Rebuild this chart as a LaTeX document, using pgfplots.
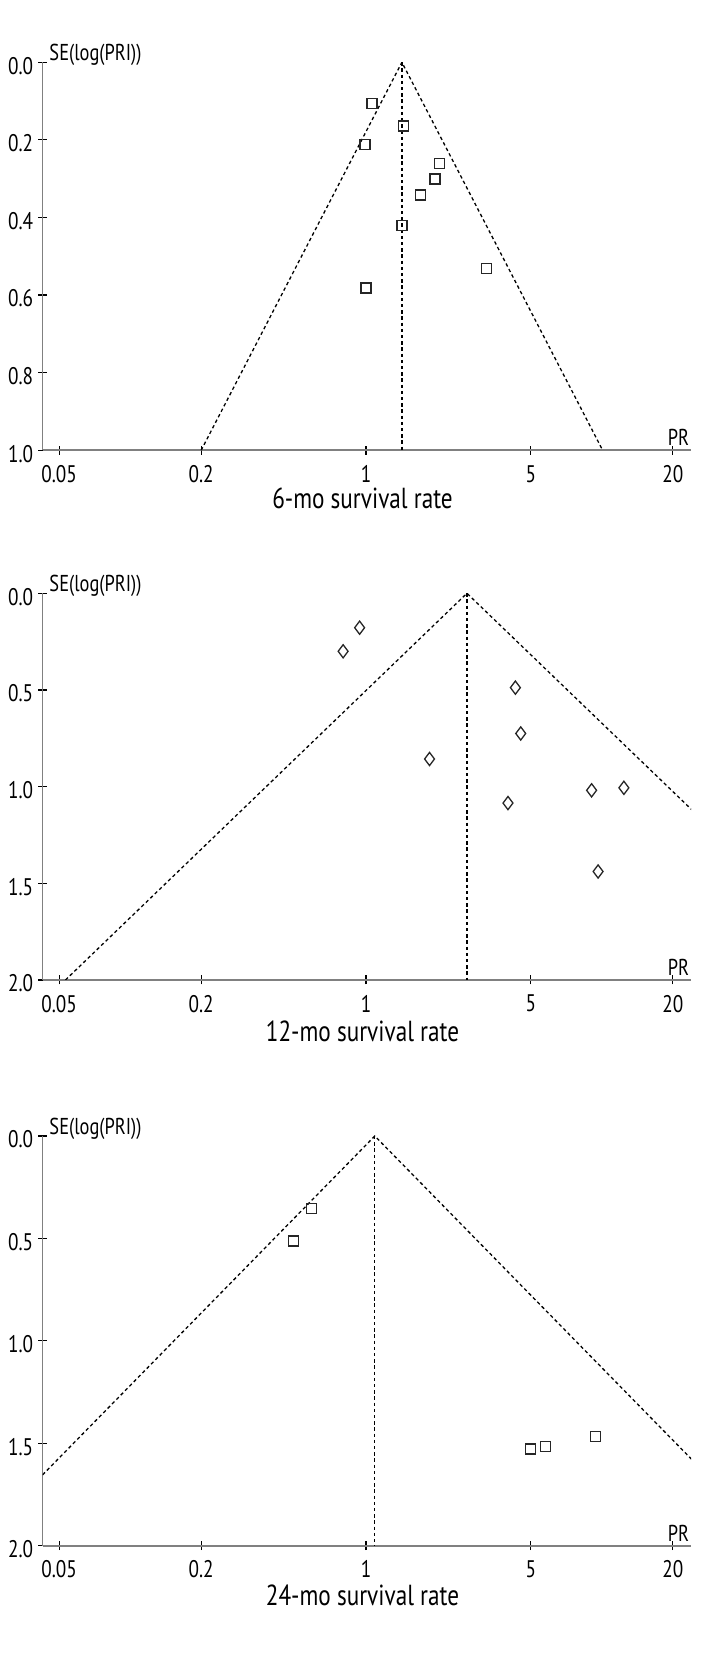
\documentclass[border=0pt]{standalone}
\usepackage{fontspec}
\setmainfont[FakeStretch=0.8]{PT Sans}
\usepackage{pgfplots}
\pgfplotsset{compat=1.18}
\tikzset{
 myfun/.style={black, line width=0.65pt, dash pattern=on 1.7pt off 1.4pt},
 myselab/.style={anchor=base west, inner sep=0pt, xshift=3.2pt, yshift=0.65pt, font=\fontsize{11.5}{13}\selectfont},
 myprlab/.style={anchor=base east, inner sep=0pt, xshift=-0.8pt, yshift=2.2pt, font=\fontsize{11.5}{13}\selectfont},
 myttl/.style={anchor=center, xshift=-2.2pt, font=\fontsize{14.5}{17}\selectfont},
}
\begin{document}
\begin{tikzpicture}
\path[use as bounding box] (0,0) rectangle (360pt,840pt);
% Panel 1: 6-mo
\begin{axis}[xmode=log, y dir=reverse, scale only axis, width=324.2pt, height=194pt,
  xmin=0.0426, xmax=23.9, ymin=0, ymax=1, clip mode=individual,
  xtick={0.05,0.2,1,5,20}, xticklabels={0.05,0.2,1,5,20}, minor xtick={},
  ytick={0,0.2,0.4,0.6,0.8,1}, yticklabels={0.0,0.2,0.4,0.6,0.8,1.0},
  axis x line=bottom, axis y line=left,
  axis line style={-, draw=black!50, line width=0.8pt},
  tick style={black, line width=0.6pt}, major tick length=4.5pt, tick align=center,
  /pgf/number format/assume math mode=true,
  tick label style={font=\fontsize{12}{14}\selectfont},
  xticklabel style={yshift=-1.8pt},
  yticklabel style={inner xsep=0pt, xshift=-2.3pt, yshift=-1.7pt},
  anchor=south west, at={(21.35pt,614.85pt)}]
\addplot[myfun] coordinates {(0.2001,1) (1.42,0) (10.08,1)};
\addplot[myfun] coordinates {(1.42,0) (1.42,1)};
\addplot[only marks, mark=square, mark size=2.5pt, mark options={black!85, line width=0.65pt, solid}] coordinates {(1.06,0.107) (1.44,0.164) (0.99,0.212) (2.05,0.260) (1.96,0.301) (1.70,0.342) (1.42,0.421) (3.24,0.532) (1.00,0.582)};
\node[myselab] at (axis description cs:0,1) {SE(log(PRI))};
\node[myprlab] at (axis description cs:1,0) {PR};
\node[myttl, yshift=-24pt] at (axis description cs:0.5,0) {6-mo survival rate};
\end{axis}
% Panel 2: 12-mo
\begin{axis}[xmode=log, y dir=reverse, scale only axis, width=324.2pt, height=193.35pt,
  xmin=0.0426, xmax=23.9, ymin=0, ymax=2, clip mode=individual,
  xtick={0.05,0.2,1,5,20}, xticklabels={0.05,0.2,1,5,20}, minor xtick={},
  ytick={0,0.5,1,1.5,2}, yticklabels={0.0,0.5,1.0,1.5,2.0},
  axis x line=bottom, axis y line=left,
  axis line style={-, draw=black!50, line width=0.8pt},
  tick style={black, line width=0.6pt}, major tick length=4.5pt, tick align=center,
  /pgf/number format/assume math mode=true,
  tick label style={font=\fontsize{12}{14}\selectfont},
  xticklabel style={yshift=-1.8pt},
  yticklabel style={inner xsep=0pt, xshift=-2.3pt, yshift=-1.7pt},
  anchor=south west, at={(21.35pt,350pt)}]
\addplot[myfun] coordinates {(0.0532,2) (2.68,0) (135.1,2)};
\addplot[myfun] coordinates {(2.68,0) (2.68,2)};
\addplot[only marks, mark=diamond, mark size=3.3pt, mark options={black!85, line width=0.65pt, solid}] coordinates {(0.94,0.178) (0.80,0.300) (4.30,0.488) (4.53,0.725) (1.86,0.857) (9.05,1.019) (12.4,1.006) (4.0,1.085) (9.64,1.439)};
\node[myselab] at (axis description cs:0,1) {SE(log(PRI))};
\node[myprlab] at (axis description cs:1,0) {PR};
\node[myttl, yshift=-25.8pt] at (axis description cs:0.5,0) {12-mo survival rate};
\end{axis}
% Panel 3: 24-mo
\begin{axis}[xmode=log, y dir=reverse, scale only axis, width=324.2pt, height=204.85pt,
  xmin=0.0426, xmax=23.9, ymin=0, ymax=2, clip mode=individual,
  xtick={0.05,0.2,1,5,20}, xticklabels={0.05,0.2,1,5,20}, minor xtick={},
  ytick={0,0.5,1,1.5,2}, yticklabels={0.0,0.5,1.0,1.5,2.0},
  axis x line=bottom, axis y line=left,
  axis line style={-, draw=black!50, line width=0.8pt},
  tick style={black, line width=0.6pt}, major tick length=4.5pt, tick align=center,
  /pgf/number format/assume math mode=true,
  tick label style={font=\fontsize{12}{14}\selectfont},
  xticklabel style={yshift=-1.8pt},
  yticklabel style={inner xsep=0pt, xshift=-2.3pt, yshift=-1.7pt},
  anchor=south west, at={(21.35pt,67.15pt)}]
\addplot[myfun] coordinates {(0.0216,2) (1.09,0) (54.9,2)};
\addplot[myfun] coordinates {(1.09,0) (1.09,2)};
\addplot[only marks, mark=square, mark size=2.5pt, mark options={black!85, line width=0.65pt, solid}] coordinates {(0.586,0.355) (0.493,0.512) (4.98,1.528) (5.75,1.517) (9.38,1.466)};
\node[myselab] at (axis description cs:0,1) {SE(log(PRI))};
\node[myprlab] at (axis description cs:1,0) {PR};
\node[myttl, yshift=-25pt] at (axis description cs:0.5,0) {24-mo survival rate};
\end{axis}
\end{tikzpicture}
\end{document}
